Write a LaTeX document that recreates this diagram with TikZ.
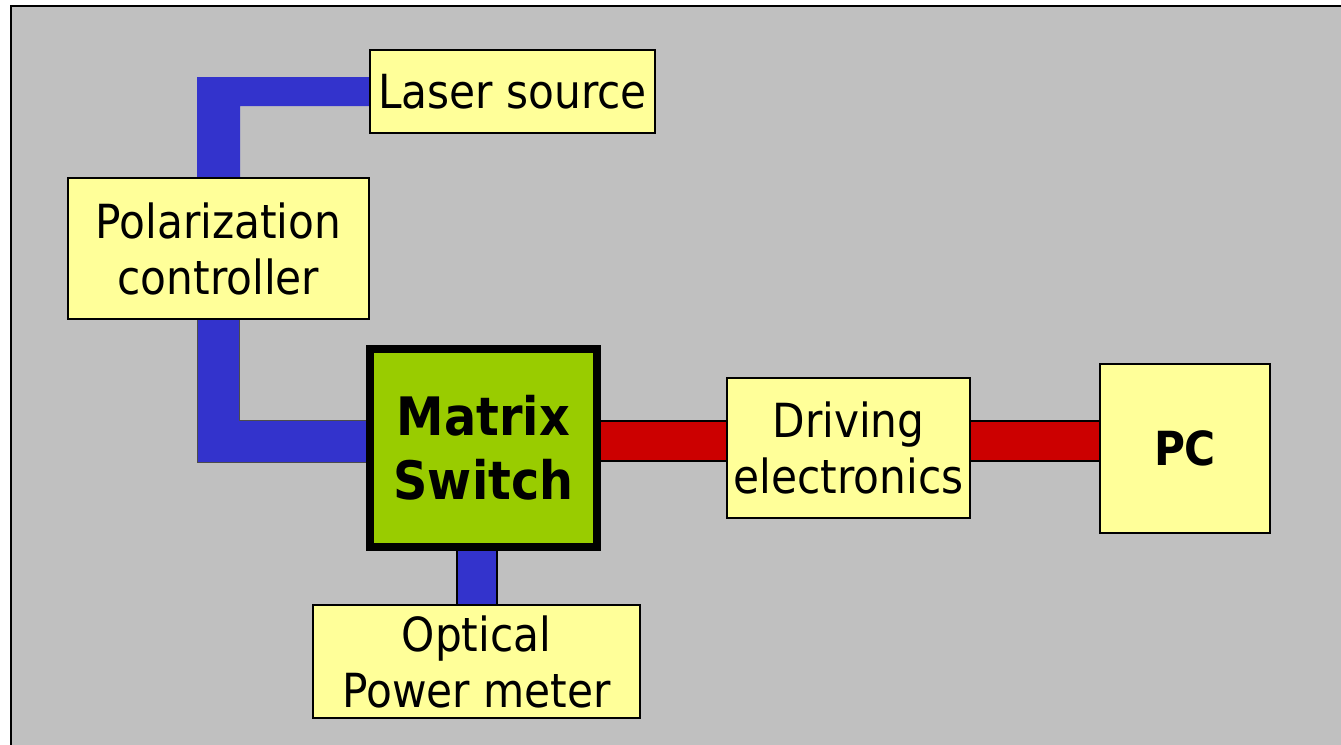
\documentclass[tikz,border=0pt]{standalone}
\usepackage{fontspec}
\setmainfont{DejaVu Sans Condensed}
\usepackage{tikz}
\usetikzlibrary{calc}
\pgfdeclarelayer{back}
\pgfdeclarelayer{bg}
\pgfsetlayers{back,bg,main}
\definecolor{panelgray}{HTML}{C0C0C0}
\definecolor{boxyellow}{HTML}{FFFF99}
\definecolor{switchgreen}{HTML}{99CC00}
\definecolor{fibreblue}{HTML}{3333CC}
\definecolor{cablered}{HTML}{CC0000}

\begin{document}
\begin{tikzpicture}[
  x=0.5pt, y=-0.5pt,
  font=\fontsize{23.5}{28}\selectfont,
  box/.style={draw, line width=1pt, fill=boxyellow, align=center, inner sep=0pt},
  swbox/.style={draw, line width=4pt, fill=switchgreen, align=center, inner sep=0pt,
    font=\fontsize{26.5}{32}\selectfont\bfseries},
  outl/.style={line width=21pt, draw=black},
  fibre/.style={line width=19pt, draw=fibreblue},
  cable/.style={line width=19pt, draw=cablered}
]
\useasboundingbox (0,0) rectangle (1341,745);
\begin{pgfonlayer}{back}
  \draw[line width=1pt, fill=panelgray] (11,6) rectangle (1370,775);
\end{pgfonlayer}

\node[box, minimum width=142.5pt, minimum height=41.5pt] (las) at (512.5,91.5) {Laser source};
\node[box, minimum width=150.5pt, minimum height=70.5pt] (pol) at (218.5,248.5) {Polarization\\controller};
\node[swbox, minimum width=113.5pt, minimum height=99pt] (sw) at (483.5,448) {Matrix\\Switch};
\node[box, minimum width=121.5pt, minimum height=70pt] (de) at (848.5,448) {Driving\\electronics};
\node[box, minimum width=85pt, minimum height=84.5pt, font=\fontsize{23.5}{28}\selectfont\bfseries] (pc) at (1185,448.5) {PC};
\node[box, minimum width=163.5pt, minimum height=56.5pt] (opm) at (476.5,661.5) {Optical\\Power meter};

\begin{pgfonlayer}{bg}
  % fibres
  \fill[fibreblue] ($(pol.north)+(-21.5,0)$) |- ($(las.west)+(0,-14.5)$)
    -- ($(las.west)+(0,14.5)$) -| ($(pol.north)+(21.5,0)$) -- cycle;
  \draw[line width=21.5pt, draw=black!70] (pol.south) |- ([yshift=3.25pt]sw.west);
  \draw[fibre, line width=20.5pt] (pol.south) |- ([yshift=3.25pt]sw.west);
  \draw[outl] (opm.north) -- (opm.north |- sw.south);
  \draw[fibre] (opm.north) -- (opm.north |- sw.south);
  % cables
  \draw[outl] ([yshift=3.5pt]sw.east) -- ([yshift=3.5pt]de.west);
  \draw[cable] ([yshift=3.5pt]sw.east) -- ([yshift=3.5pt]de.west);
  \draw[outl] ([yshift=3.5pt]de.east) -- ([yshift=3.75pt]pc.west);
  \draw[cable] ([yshift=3.5pt]de.east) -- ([yshift=3.75pt]pc.west);
\end{pgfonlayer}
\end{tikzpicture}
\end{document}
